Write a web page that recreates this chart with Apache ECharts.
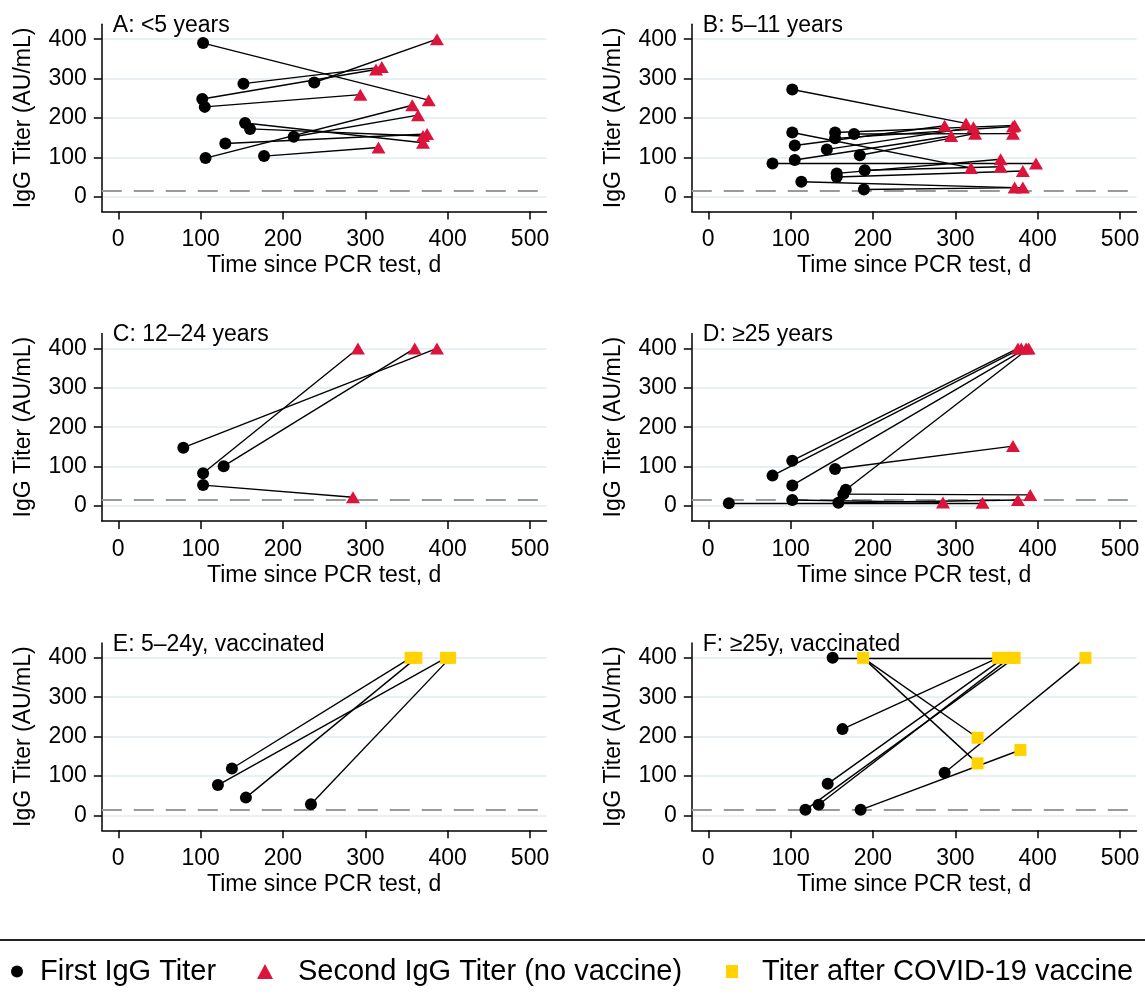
<!DOCTYPE html>
<html>
<head>
<meta charset="utf-8">
<script src="https://cdn.jsdelivr.net/npm/echarts@6/dist/echarts.min.js"></script>
<style>
html,body{margin:0;padding:0;background:#fff;}
#chart{width:1145px;height:994px;}
</style>
</head>
<body>
<div id="chart"></div>
<script>
// ---------- data (days since PCR test, IgG titer AU/mL) ----------
var panelTitles = ['A: <5 years', 'B: 5\u201311 years', 'C: 12\u201324 years', 'D: \u226525 years', 'E: 5\u201324y, vaccinated', 'F: \u226525y, vaccinated'];
var xTicks = [0, 100, 200, 300, 400, 500];
var yTicks = [0, 100, 200, 300, 400];
var cutoff = 15;

var firstA  = [[103,390],[152,287],[102,248],[238,290],[105,228],[154,187],[160,172],[130,135],[106,98],[213,152],[177,103]];
var secondA = [[377,245],[320,329],[313,323],[387,400],[294,259],[370,137],[370,154],[375,159],[357,232],[364,207],[316,125]];

var firstB  = [[102,272],[102,163],[154,163],[154,148],[177,159],[105,130],[144,120],[184,105],[105,93],[78,84],[156,59],[156,50],[190,67],[113,38],[189,18]];
var secondB = [[313,186],[319,73],[372,181],[370,178],[370,160],[287,180],[322,176],[324,160],[295,154],[398,84],[355,95],[382,65],[355,76],[372,23],[382,23]];

var firstC  = [[79,148],[103,83],[128,101],[103,53]];
var secondC = [[387,400],[291,400],[360,400],[285,22]];

var firstD  = [[102,115],[78,77],[102,52],[167,41],[164,30],[154,94],[102,15],[158,8],[25,7]];
var secondD = [[376,400],[380,400],[386,400],[389,400],[391,28],[370,152],[285,9],[376,15],[333,8]];

var firstE  = [[138,119],[121,77],[155,45],[234,28]];
var vaxE    = [[355,400],[398,400],[362,400],[403,400]];

var firstF  = [[151,400],[163,219],[145,80],[134,27],[118,14],[185,14],[287,108]];
var vaxF    = [[188,400],[352,400],[359,400],[366,400],[372,400],[327,197],[327,132],[379,166],[458,400]];
// links in F: [source list, source index, index in vaxF]
var linksF  = [['first',0,1],['vax',0,5],['vax',0,6],['first',1,1],['first',2,2],['first',3,3],['first',4,4],['first',5,7],['first',6,8]];

// ---------- layout ----------
var FONT = 'Liberation Sans, Arial, Helvetica, sans-serif';
var NAME1 = 'First IgG Titer', NAME2 = 'Second IgG Titer (no vaccine)', NAME3 = 'Titer after COVID-19 vaccine';
var RED = '#dc143c', GOLD = '#ffd200';
var colLeft = [101.8, 691.8], rowTop = [24.2, 333.5, 642.9];
var gw = 444.7, gh = 187.4;

function pairs(a, b) { return a.map(function (p, i) { return { coords: [p, b[i]] }; }); }

var panels = [
  { lines: pairs(firstA, secondA), first: firstA, second: secondA, vax: null },
  { lines: pairs(firstB, secondB), first: firstB, second: secondB, vax: null },
  { lines: pairs(firstC, secondC), first: firstC, second: secondC, vax: null },
  { lines: pairs(firstD, secondD), first: firstD, second: secondD, vax: null },
  { lines: pairs(firstE, vaxE), first: firstE, second: null, vax: vaxE },
  { lines: linksF.map(function (l) { return { coords: [(l[0] === 'first' ? firstF : vaxF)[l[1]], vaxF[l[2]]] }; }), first: firstF, second: null, vax: vaxF }
];

var grids = [], xAxes = [], yAxes = [], series = [], titles = [];
panels.forEach(function (p, i) {
  var c = i % 2, r = Math.floor(i / 2);
  grids.push({ left: colLeft[c], top: rowTop[r], width: gw, height: gh, containLabel: false });
  xAxes.push({
    gridIndex: i, type: 'value', min: -20, max: 520,
    axisLine: { show: true, onZero: false, lineStyle: { color: '#000', width: 1.5 } },
    axisTick: { show: true, length: 8, customValues: xTicks, lineStyle: { color: '#000', width: 1.5 } },
    axisLabel: { customValues: xTicks, fontSize: 23, color: '#000', margin: 17, fontFamily: FONT },
    splitLine: { show: false },
    name: 'Time since PCR test, d', nameLocation: 'middle', nameGap: 43,
    nameTextStyle: { fontSize: 23, color: '#000', fontFamily: FONT }
  });
  yAxes.push({
    gridIndex: i, type: 'value', min: -38, max: 438,
    axisLine: { show: true, onZero: false, lineStyle: { color: '#000', width: 1.5 } },
    axisTick: { show: true, length: 8, customValues: yTicks, lineStyle: { color: '#000', width: 1.5 } },
    axisLabel: { customValues: yTicks, fontSize: 23, color: '#000', margin: 15, fontFamily: FONT },
    splitLine: { show: true, lineStyle: { color: '#e0ebef', width: 1.5 } },
    name: 'IgG Titer (AU/mL)', nameLocation: 'middle', nameGap: 67, nameRotate: 90,
    nameTextStyle: { fontSize: 23, color: '#000', fontFamily: FONT }
  });
  titles.push({
    text: panelTitles[i], left: colLeft[c] + 11, top: rowTop[r] - 10, padding: 0,
    textStyle: { fontSize: 23, fontWeight: 'normal', color: '#000', fontFamily: FONT }
  });
  series.push({
    type: 'lines', coordinateSystem: 'cartesian2d', xAxisIndex: i, yAxisIndex: i,
    data: p.lines, silent: true, z: 3,
    lineStyle: { color: '#000', width: 1.4, opacity: 1 },
    markLine: {
      silent: true, symbol: 'none', label: { show: false }, z: 2,
      lineStyle: { color: '#9a9a9a', type: [20, 12], width: 2 },
      data: [{ yAxis: cutoff }]
    }
  });
  series.push({
    type: 'scatter', name: NAME1, xAxisIndex: i, yAxisIndex: i, data: p.first,
    symbol: 'circle', symbolSize: 12, itemStyle: { color: '#000', opacity: 1 }, z: 5
  });
  if (p.second) series.push({
    type: 'scatter', name: NAME2, xAxisIndex: i, yAxisIndex: i, data: p.second,
    symbol: 'triangle', symbolSize: [14, 12], itemStyle: { color: RED, opacity: 1 }, z: 5
  });
  if (p.vax) series.push({
    type: 'scatter', name: NAME3, xAxisIndex: i, yAxisIndex: i, data: p.vax,
    symbol: 'rect', symbolSize: 12, itemStyle: { color: GOLD, opacity: 1 }, z: 5
  });
});

function leg(name, icon, left, pad, w, h) {
  return {
    data: [{ name: name, icon: icon }], left: left, top: 957, orient: 'horizontal',
    itemWidth: w, itemHeight: h, padding: 0,
    textStyle: { fontSize: 29, color: '#000', fontFamily: FONT, padding: [0, 0, 0, pad] }
  };
}

var option = {
  backgroundColor: '#fff',
  animation: false,
  title: titles,
  grid: grids, xAxis: xAxes, yAxis: yAxes, series: series,
  legend: [leg(NAME1, 'circle', 11, 12, 12, 12), leg(NAME2, 'triangle', 257, 20, 16, 15), leg(NAME3, 'rect', 726, 19, 12, 13)],
  graphic: [{
    type: 'line', shape: { x1: 0, y1: 940, x2: 1145, y2: 940 }, silent: true,
    style: { stroke: '#222', lineWidth: 2 }
  }]
};
var chart = echarts.init(document.getElementById('chart'), null, { renderer: 'canvas' });
chart.setOption(option);
</script>
</body>
</html>
